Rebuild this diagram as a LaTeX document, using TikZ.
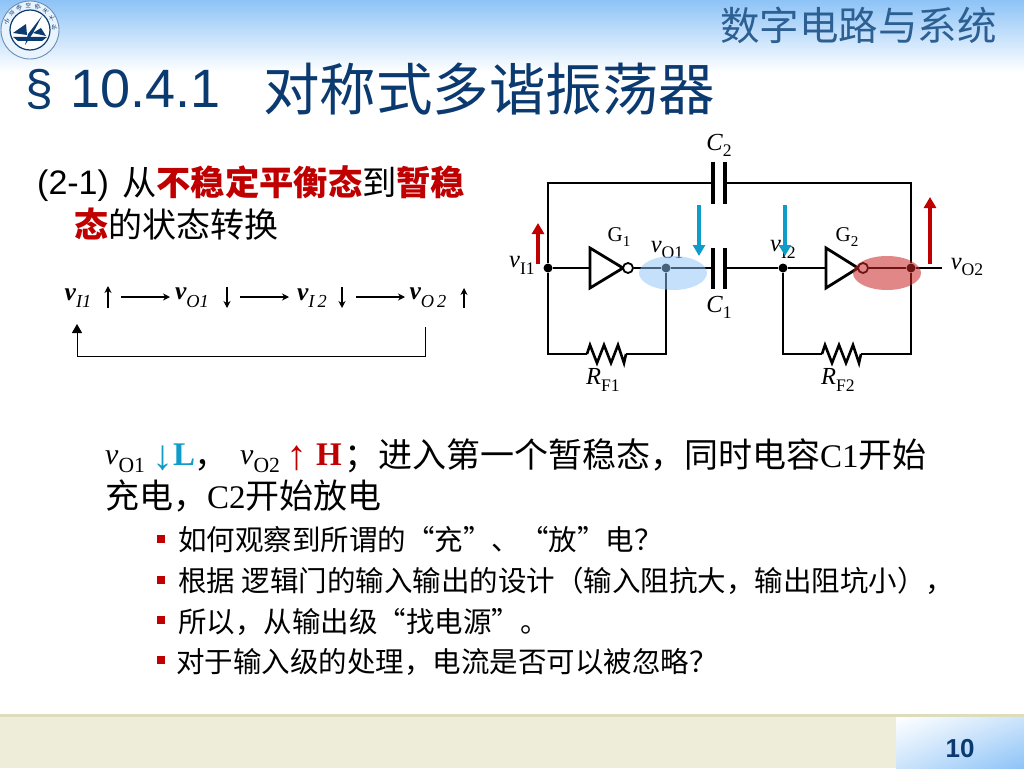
\documentclass[tikz,border=0pt]{standalone}
\usepackage{fontspec}
\setmainfont{Liberation Sans}
\newfontfamily\cjk{Noto Sans CJK SC}
\newfontfamily\serifrm{Liberation Serif}
\usetikzlibrary{arrows.meta,shadings}
\definecolor{titleblue}{HTML}{0B3A70}
\definecolor{headblue}{HTML}{8DC3F7}
\definecolor{subblue}{HTML}{2C5F92}
\definecolor{footbar}{HTML}{EEEDD9}
\definecolor{footline}{HTML}{DDDDBB}
\definecolor{markred}{HTML}{C00000}
\definecolor{cyanmark}{HTML}{0F9CC8}
\newcommand{\VSub}[2]{{\serifrm\itshape #1}\raisebox{-.28em}{\scalebox{.72}{\serifrm #2}}}
\newcommand{\VBold}[2]{{\serifrm\bfseries\itshape #1}\raisebox{-.3em}{\scalebox{.72}{\serifrm\itshape #2}}}
\tikzset{
  wire/.style={line width=1.9pt},
  plate/.style={line width=3.2pt},
  dotnode/.style={circle,fill=black,inner sep=0pt,minimum size=9pt},
  bubble/.style={circle,draw,line width=1.8pt,fill=white,inner sep=0pt,minimum size=10pt},
  lbl/.style={inner sep=0pt,font=\fontsize{24.5}{26}\selectfont\serifrm},
  gatelbl/.style={inner sep=0pt,font=\fontsize{21}{23}\selectfont\serifrm},
  body/.style={anchor=base west,inner sep=0pt,font=\fontsize{34}{36}\selectfont\cjk},
  latinbody/.style={anchor=base west,inner sep=0pt,font=\fontsize{33}{36}\selectfont\serifrm},
  bullettext/.style={anchor=west,inner sep=0pt,font=\fontsize{28.5}{30}\selectfont\cjk},
  bulletmark/.style={fill=markred,inner sep=0pt,minimum size=8pt},
  flowtext/.style={inner sep=0pt,font=\fontsize{25.5}{27}\selectfont},
  flowarrow/.style={line width=1.1pt,-{Stealth[length=7pt,width=7pt]}},
  redarrow/.style={draw=markred,line width=3.8pt,-{Triangle[length=11pt,width=12pt]}},
  bluearrow/.style={draw=cyanmark,line width=3.8pt,-{Triangle[length=11pt,width=12pt]}},
  zigres/.pic={\draw[line width=2.6pt,line join=miter] (0,0) -- (3,-9) -- (10,9) -- (17,-9) -- (24,9) -- (31,-9) -- (37,9) -- (39,0);}
}
\begin{document}
\begin{tikzpicture}[x=1pt,y=-1pt]
\useasboundingbox (0,0) rectangle (1024,768);
\fill[white] (0,0) rectangle (1024,768);

% page head and foot
\shade[top color=headblue,bottom color=white] (0,0) rectangle (1024,72);
\fill[footbar] (0,716) rectangle (1024,768);
\fill[footline] (0,714) rectangle (1024,717);
\shade[upper left=white,upper right=headblue!45,lower left=headblue!45,lower right=headblue] (896,717) rectangle (1024,768);
\node[text=titleblue,font=\fontsize{26}{28}\selectfont\bfseries] (pagenum) at (960,749) {10};

% logo
\draw[subblue!70,line width=.9pt,fill=white!80!headblue] (30,30) circle (29);
\draw[titleblue,line width=1.2pt,fill=white] (30,30) circle (20);
\fill[titleblue] (13,33) -- (26,24) -- (27,35) -- cycle;
\fill[titleblue] (33,33) -- (41,28) -- (46,36) -- cycle;
\fill[titleblue] (13,37) -- (47,37) -- (42,41) -- (18,41) -- cycle;
\fill[titleblue] (42,16) -- (28,34) -- (25,45) -- (33,33) -- cycle;
\foreach \ang/\ch in {200/北,222/京,244/航,266/空,288/航,310/天,332/大,354/学}
  \node[rotate=\ang+90,text=titleblue,inner sep=0pt,font=\fontsize{5.5}{6}\selectfont\cjk] at ({30+24.5*cos(\ang)},{30+24.5*sin(\ang)}) {\ch};

% titles
\node[anchor=east,inner sep=0pt,text=subblue,font=\fontsize{39.5}{41}\selectfont\cjk] (coursename) at (997,25) {数字电路与系统};
\node[anchor=west,inner sep=0pt,text=titleblue,font=\fontsize{50}{52}\selectfont] (secnum) at (25,89) {§};
\node[anchor=west,inner sep=0pt,text=titleblue,font=\fontsize{54}{56}\selectfont] (secval) at (70,89) {10.4.1};
\node[anchor=west,inner sep=0pt,text=titleblue,font=\fontsize{56.5}{58}\selectfont\cjk] (sectitle) at (263,89) {对称式多谐振荡器};

% left text
\node[anchor=base west,inner sep=0pt,font=\fontsize{34}{36}\selectfont] (num) at (37,194) {(2-1)};
\node[body] (line1) at (122,195) {\fontsize{34.3}{36}\selectfont 从\textcolor{markred}{\bfseries 不稳定平衡态}到\textcolor{markred}{\bfseries 暂稳}};
\node[body] (line2) at (74,237) {\textcolor{markred}{\bfseries 态}的状态转换};

% transition chain
\node[flowtext] (fI1) at (78,298) {\VBold{v}{I1}};
\node[flowtext] (fO1) at (192,298) {\VBold{v}{O1}};
\node[flowtext] (fI2) at (312,298) {\VBold{v}{I\,2}};
\node[flowtext] (fO2) at (428,298) {\VBold{v}{O\,2}};
\coordinate (a1s) at (108,308); \coordinate (a1e) at (108,286);
\coordinate (a2s) at (227,287); \coordinate (a2e) at (227,308);
\coordinate (a3s) at (342,287); \coordinate (a3e) at (342,308);
\coordinate (a4s) at (464,308); \coordinate (a4e) at (464,288);
\draw[flowarrow] (a1s) -- (a1e);
\draw[flowarrow] (a2s) -- (a2e);
\draw[flowarrow] (a3s) -- (a3e);
\draw[flowarrow] (a4s) -- (a4e);
\coordinate (l1s) at (121,297); \coordinate (l1e) at (170,297);
\coordinate (l2s) at (240,297); \coordinate (l2e) at (289,297);
\coordinate (l3s) at (356,297); \coordinate (l3e) at (405,297);
\draw[flowarrow] (l1s) -- (l1e);
\draw[flowarrow] (l2s) -- (l2e);
\draw[flowarrow] (l3s) -- (l3e);
\coordinate (backs) at (425,327);
\coordinate (backe) at (77,324);
\draw[line width=.9pt,-{Triangle[length=9pt,width=10pt]}] (backs) -- (425,356) -- (77,356) -- (backe);

% circuit
\node[dotnode] (vi1) at (548,268) {};
\node[dotnode] (vo1) at (666,268) {};
\node[dotnode] (vi2) at (783,268) {};
\node[dotnode] (vo2) at (911,268) {};
\coordinate (vout) at (942,268);
\coordinate (c2l) at (713,183); \coordinate (c2r) at (725,183);
\coordinate (c1l) at (713,268); \coordinate (c1r) at (725,268);
\coordinate (g1in) at (590,268); \coordinate (g2in) at (826,268);
\coordinate (r1l) at (587,354); \coordinate (r1r) at (626,354);
\coordinate (r2l) at (822,354); \coordinate (r2r) at (861,354);

\draw[wire] (vi1) -- (548,183) -- (c2l);
\draw[wire] (c2r) -- (911,183) -- (vo2);
\draw[plate] (713,162) -- (713,204);
\draw[plate] (725,162) -- (725,204);
\draw[plate] (713,248) -- (713,289);
\draw[plate] (725,248) -- (725,289);
\draw[wire] (vi1) -- (g1in);
\draw[wire] (vi2) -- (g2in);
\draw[wire] (vo1) -- (c1l);
\draw[wire] (c1r) -- (vi2);
\draw[line width=2.8pt,line join=miter] (590,248) -- (590,288) -- (623,268) -- cycle;
\draw[line width=2.8pt,line join=miter] (826,248) -- (826,288) -- (858,268) -- cycle;
\node[bubble] (b1) at (628,268) {};
\node[bubble] (b2) at (863,268) {};
\draw[wire] (b1) -- (vo1);
\draw[wire] (b2) -- (vo2) -- (vout);
\draw[wire] (vi1) -- (548,354) -- (r1l);
\draw[wire] (r1r) -- (666,354) -- (vo1);
\draw[wire] (vi2) -- (783,354) -- (r2l);
\draw[wire] (r2r) -- (911,354) -- (vo2);
\pic at (r1l) {zigres};
\pic at (r2l) {zigres};

\node[lbl] (lc2) at (719,145) {\itshape C\raisebox{-.25em}{\scalebox{.72}{\upshape 2}}};
\node[lbl] (lc1) at (719,307) {\itshape C\raisebox{-.25em}{\scalebox{.72}{\upshape 1}}};
\node[gatelbl] (lg1) at (619,237) {G\raisebox{-.25em}{\scalebox{.72}{1}}};
\node[gatelbl] (lg2) at (847,237) {G\raisebox{-.25em}{\scalebox{.72}{2}}};
\node[lbl] (lvi1) at (522,265) {\VSub{v}{I1}};
\node[lbl] (lvo1) at (667,250) {\VSub{v}{O1}};
\node[lbl] (lvi2) at (783,249) {\VSub{v}{I2}};
\node[lbl] (lvo2) at (967,267) {\VSub{v}{O2}};
\node[lbl] (lr1) at (603,380) {\itshape R\raisebox{-.25em}{\scalebox{.72}{\upshape F1}}};
\node[lbl] (lr2) at (838,380) {\itshape R\raisebox{-.25em}{\scalebox{.72}{\upshape F2}}};

% highlights and level arrows
\fill[headblue,opacity=.5] (673,273) ellipse (34 and 17);
\fill[markred!85!white,opacity=.55] (887,273) ellipse (34 and 17);
\coordinate (up1s) at (538,264); \coordinate (up1e) at (538,223);
\coordinate (up2s) at (930,264); \coordinate (up2e) at (930,197);
\coordinate (dn1s) at (699,205); \coordinate (dn1e) at (699,256);
\coordinate (dn2s) at (785,205); \coordinate (dn2e) at (785,256);
\draw[redarrow] (up1s) -- (up1e);
\draw[redarrow] (up2s) -- (up2e);
\draw[bluearrow] (dn1s) -- (dn1e);
\draw[bluearrow] (dn2s) -- (dn2e);

% result text
\node[latinbody,font=\fontsize{30}{32}\selectfont\serifrm] (res-v1) at (105,464) {\VSub{v}{O1}};
\node[inner sep=0pt,text=cyanmark,font=\fontsize{42}{44}\selectfont\serifrm] (res-dn) at (163,458) {↓};
\node[latinbody,text=cyanmark,font=\fontsize{33}{36}\selectfont\serifrm\bfseries] (res-l) at (173,465) {L};
\node[body] (res-c) at (194,467) {，};
\node[latinbody,font=\fontsize{30}{32}\selectfont\serifrm] (res-v2) at (240,464) {\VSub{v}{O2}};
\node[inner sep=0pt,text=markred,font=\fontsize{42}{44}\selectfont\serifrm] (res-up) at (297,458) {↑};
\node[latinbody,text=markred,font=\fontsize{33}{36}\selectfont\serifrm\bfseries] (res-h) at (316,465) {H};
\node[body] (res1) at (344,467) {；进入第一个暂稳态，同时电容{\fontsize{33}{36}\selectfont\serifrm C1}开始};
\node[body] (res2) at (105,508) {充电，{\fontsize{33}{36}\selectfont\serifrm C2}开始放电};

% bullets
\node[bulletmark] (m1) at (161,539) {};
\node[bulletmark] (m2) at (161,580) {};
\node[bulletmark] (m3) at (161,620) {};
\node[bulletmark] (m4) at (161,660) {};
\node[bullettext] (t1) at (178,540) {如何观察到所谓的“充”、“放”电？};
\node[bullettext] (t2) at (178,581) {根据 逻辑门的输入输出的设计（输入阻抗大，输出阻坑小），};
\node[bullettext] (t3) at (178,622) {所以，从输出级“找电源”。};
\node[bullettext] (t4) at (176,662) {对于输入级的处理，电流是否可以被忽略？};
\end{tikzpicture}
\end{document}
